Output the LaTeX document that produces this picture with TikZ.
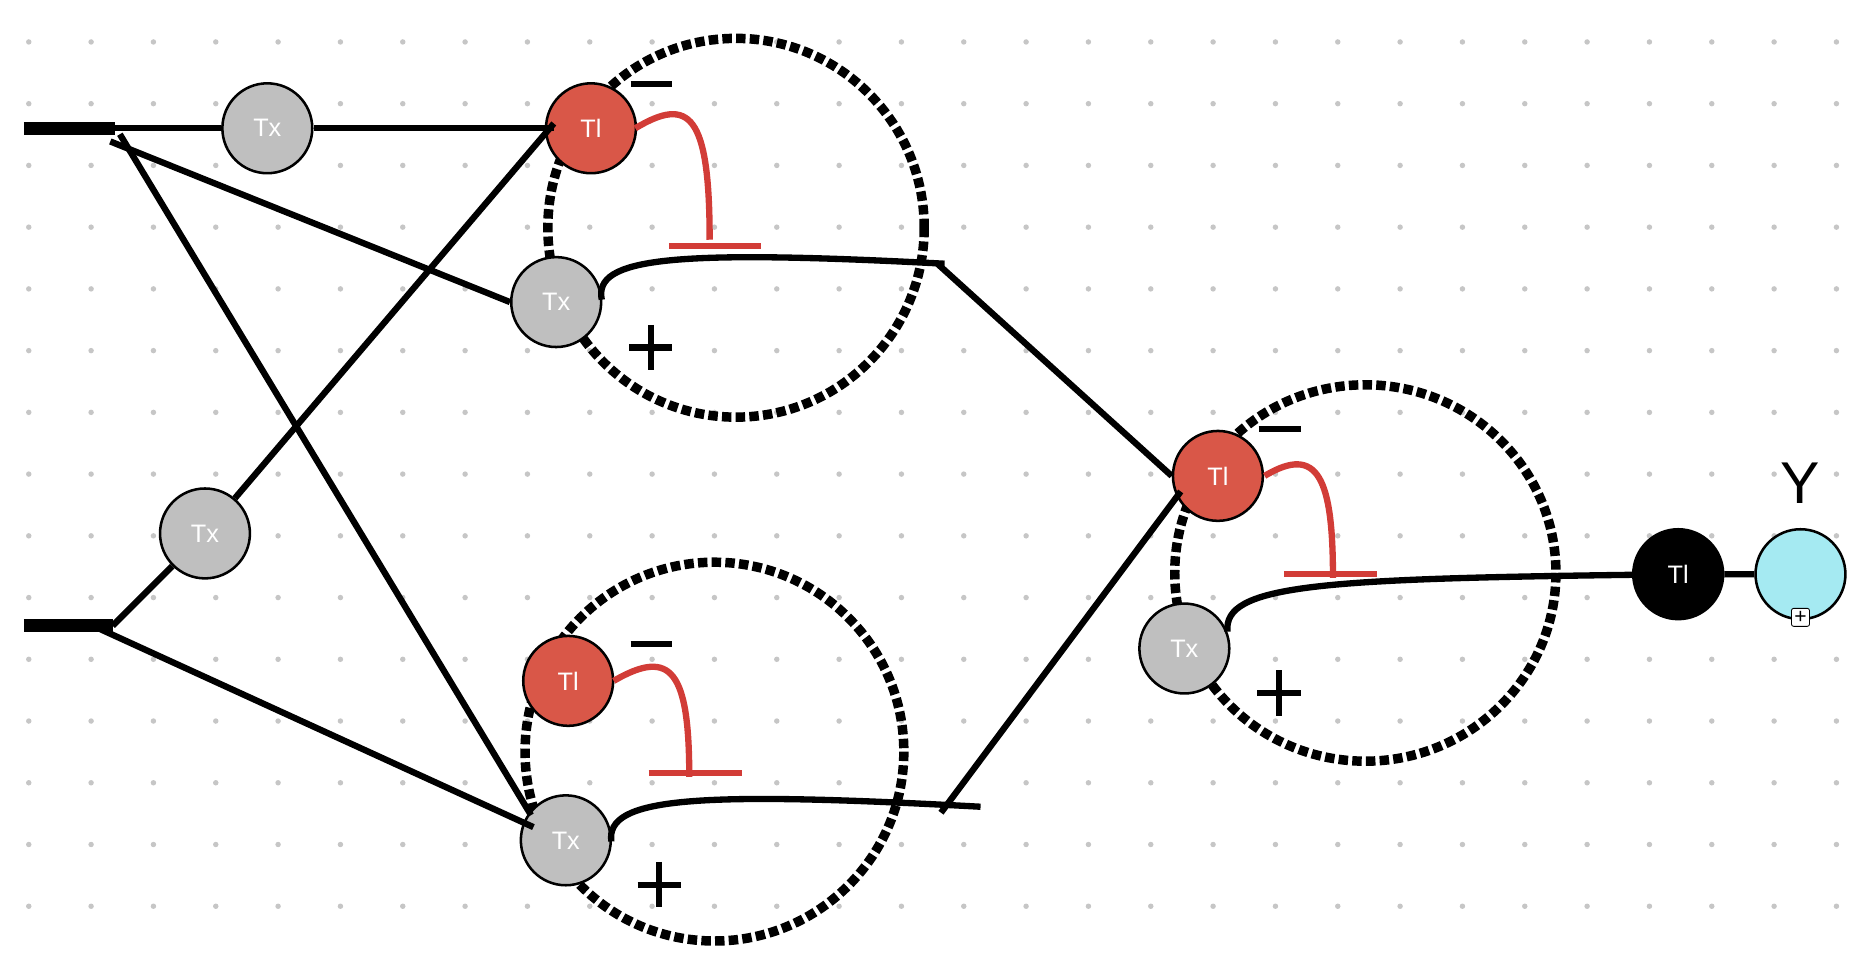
\documentclass[tikz,border=0pt]{standalone}
\usepackage{fontspec}
\setmainfont{Liberation Sans}
\begin{document}
\begin{tikzpicture}[x=0.02cm,y=-0.02cm,
  nd/.style={circle,draw=black,line width=1.2pt,minimum size=75*0.02cm,inner sep=0pt,font=\fontsize{12}{12}\selectfont,text=white},
  tx/.style={nd,fill=gray!50},
  tl/.style={nd,fill=red!55!orange!80!black,fill={rgb,255:red,217;green,87;blue,72}},
  wire/.style={line width=3pt},
  loop/.style={line width=4.5pt,dotted},
  inh/.style={line width=3pt,draw={rgb,255:red,210;green,60;blue,55}},
  sgn/.style={font=\fontsize{34}{34}\selectfont}]
\useasboundingbox (0,0) rectangle (1560,798);
\foreach \x in {24,76,...,1560} \foreach \y in {35,86.5,...,798} \fill[gray!45] (\x,\y) circle (1.3pt);
% loops
\draw[loop] (614,190) ellipse [x radius=157,y radius=158];
\draw[loop] (596,627) ellipse [x radius=158,y radius=158];
\draw[loop] (1139,478) ellipse [x radius=159,y radius=157];
% nodes
\node[tx] (t1) at (223,107) {Tx};
\node[tl] (la) at (493,107) {Tl};
\node[tx] (xa) at (464,252) {Tx};
\node[tx] (t2) at (171,445) {Tx};
\node[tl] (lb) at (474,568) {Tl};
\node[tx] (xb) at (472,701) {Tx};
\node[tl] (lc) at (1016,397) {Tl};
\node[tx] (xc) at (988,541) {Tx};
\node[nd,fill=black] (lk) at (1400,479) {Tl};
\node[nd,fill={rgb,255:red,165;green,234;blue,242}] (cy) at (1502,479) {};
\node[font=\fontsize{28}{28}\selectfont] (ylab) at (1502,403) {Y};
\node[draw,fill=white,rounded corners=1pt,minimum size=0.3cm,inner sep=0pt,font=\fontsize{10}{10}\selectfont] (pl) at (1502,515) {+};
% inputs
\coordinate (i1) at (20,107); \coordinate (j1) at (96,107);
\coordinate (i2) at (20,522); \coordinate (j2) at (94,522);
\draw[line width=6pt] (i1) -- (j1);
\draw[line width=6pt] (i2) -- (j2);
\coordinate (e1) at (462,107);
\draw[wire] (j1) -- (t1) -- (e1);
\coordinate (s1) at (92,118); \coordinate (s2) at (100,112); \coordinate (s3) at (84,525);
\draw[wire] (s1) -- (xa.west);
\draw[wire] (s2) -- (443,680);
\draw[wire] (j2) -- (t2) -- (462,103);
\draw[wire] (s3) -- (445,690);
% curves
\coordinate (ca) at (788,220); \coordinate (cb) at (818,673);
\draw[wire] (502,250) .. controls (495,215) and (560,208) .. (ca);
\draw[wire] (782,220) -- (lc.west);
\draw[wire] (510,702) .. controls (505,665) and (580,660) .. (cb);
\draw[wire] (785,678) -- (985,410);
\draw[wire] (1024,527) .. controls (1020,488) and (1100,483) .. (lk) -- (cy);
% inhibition
\draw[inh] (530,107) .. controls (575,80) and (592,95) .. (592,200);
\draw[inh] (558,205) -- (635,205);
\draw[inh] (512,568) .. controls (560,540) and (575,560) .. (575,648);
\draw[inh] (541,645) -- (619,645);
\draw[inh] (1055,397) .. controls (1100,370) and (1112,400) .. (1112,482);
\draw[inh] (1071,479) -- (1149,479);
% signs
\draw[line width=3pt] (526,70) -- (561,70);
\draw[line width=3pt] (526,537) -- (561,537);
\draw[line width=3pt] (1050,358) -- (1085,358);
\foreach \px/\py in {543/290,550/738,1067/578}{
 \draw[line width=3pt] (\px-18,\py) -- (\px+18,\py);
 \draw[line width=3pt] (\px,\py-19) -- (\px,\py+19);}
\end{tikzpicture}
\end{document}
